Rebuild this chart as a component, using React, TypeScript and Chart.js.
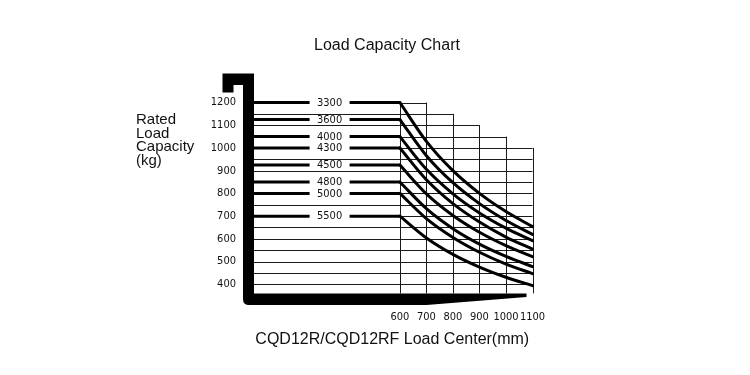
import React, { useEffect, useRef } from 'react';
import { Chart, registerables } from 'chart.js';

Chart.register(...registerables);

// ---------- text ----------
const chartTitle = 'Load Capacity Chart';
const xAxisTitle = 'CQD12R/CQD12RF Load Center(mm)';
const yAxisTitleLines = ['Rated', 'Load', 'Capacity', '(kg)'];

// ---------- axes / ticks ----------
const loadCenters = [600, 700, 800, 900, 1000, 1100];
const xTickLabels = [600, 700, 800, 900, 1000, 1100];
const yTickLabels = [400, 500, 600, 700, 800, 900, 1000, 1100, 1200];
const gridLevels = [400, 450, 500, 550, 600, 650, 700, 750, 800, 850, 900, 950, 1000, 1050, 1100, 1150, 1200];
// top of the grid for each load-center column (600-700, 700-800, ... 1000-1100)
const columnTops = [1200, 1150, 1100, 1050, 1000];

// ---------- series (lift height mm -> capacity kg at each load center) ----------
const models = ['3300', '3600', '4000', '4300', '4500', '4800', '5000', '5500'];
const cap3300 = [1200, 1029, 900, 800, 720, 654];
const cap3600 = [1125, 966, 847, 755, 681, 620];
const cap4000 = [1050, 906, 798, 714, 647, 592];
const cap4300 = [1000, 860, 755, 674, 608, 555];
const cap4500 = [925, 798, 703, 629, 570, 522];
const cap4800 = [850, 733, 645, 577, 523, 478];
const cap5000 = [800, 689, 606, 541, 489, 447];
const cap5500 = [700, 604, 532, 476, 431, 394];
const seriesValues = [cap3300, cap3600, cap4000, cap4300, cap4500, cap4800, cap5000, cap5500];

const X_MIN = 50;
const X_MAX = 1100;
const Y_MIN = 360;
const Y_MAX = 1200;
const LABEL_AT = 335; // load-center position of the model labels

const narrowFont = "'Liberation Sans Narrow', 'DejaVu Sans Condensed', 'Arial Narrow', sans-serif";
const sansFont = "'Liberation Sans', Arial, Helvetica, sans-serif";

const gridPlugin = {
  id: 'loadGrid',
  beforeDatasetsDraw(chart: any) {
    const { ctx, chartArea } = chart;
    const xs = chart.scales.x;
    const ys = chart.scales.y;
    ctx.save();
    ctx.strokeStyle = '#1a1a1a';
    ctx.lineWidth = 1;
    ctx.beginPath();
    for (const lvl of gridLevels) {
      let endIdx = 0;
      for (let i = 0; i < columnTops.length; i++) if (columnTops[i] >= lvl) endIdx = i + 1;
      const y = Math.round(ys.getPixelForValue(lvl)) + 0.5;
      ctx.moveTo(chartArea.left, y);
      ctx.lineTo(xs.getPixelForValue(loadCenters[endIdx]), y);
    }
    for (let i = 0; i < loadCenters.length; i++) {
      const a = i > 0 ? columnTops[i - 1] : Y_MAX;
      const b = i < columnTops.length ? columnTops[i] : -Infinity;
      const top = Math.max(a, b);
      const x = Math.round(xs.getPixelForValue(loadCenters[i])) + 0.5;
      ctx.moveTo(x, chartArea.bottom);
      ctx.lineTo(x, ys.getPixelForValue(top));
    }
    ctx.stroke();
    ctx.restore();
  },
  afterDatasetsDraw(chart: any) {
    const { ctx } = chart;
    const xs = chart.scales.x;
    const ys = chart.scales.y;
    const cx = xs.getPixelForValue(LABEL_AT);
    ctx.save();
    ctx.font = `11px ${narrowFont}`;
    ctx.textAlign = 'center';
    ctx.textBaseline = 'middle';
    models.forEach((m, i) => {
      const y = ys.getPixelForValue(seriesValues[i][0]);
      ctx.fillStyle = '#ffffff';
      ctx.fillRect(cx - 20, y - 4, 40, 8);
      ctx.fillStyle = '#111';
      ctx.fillText(m, cx, y + 0.5);
    });
    ctx.restore();
  },
  afterDraw(chart: any) {
    const { ctx, chartArea } = chart;
    const xs = chart.scales.x;
    const ys = chart.scales.y;
    const L = chartArea.left;
    const B = chartArea.bottom;
    const T = ys.getPixelForValue(Y_MAX);
    const tip = xs.getPixelForValue(X_MAX) - 6;
    const taper = xs.getPixelForValue(loadCenters[1]);
    ctx.save();
    ctx.fillStyle = '#000';
    // fork: hook + shank + blade
    ctx.beginPath();
    ctx.moveTo(L - 31.5, T - 29);
    ctx.lineTo(L, T - 29);
    ctx.lineTo(L, B);
    ctx.lineTo(tip, B);
    ctx.lineTo(tip, B + 3.5);
    ctx.lineTo(taper, B + 11.6);
    ctx.lineTo(L - 5, B + 11.6);
    ctx.quadraticCurveTo(L - 11, B + 11.6, L - 11, B + 5.6);
    ctx.lineTo(L - 11, T - 17.5);
    ctx.lineTo(L - 20.5, T - 17.5);
    ctx.lineTo(L - 20.5, T - 10);
    ctx.lineTo(L - 31.5, T - 10);
    ctx.closePath();
    ctx.fill();

    // titles
    ctx.fillStyle = '#111';
    ctx.textBaseline = 'middle';
    ctx.textAlign = 'center';
    ctx.font = `16px ${sansFont}`;
    ctx.fillText(chartTitle, 387, 46);
    ctx.fillText(xAxisTitle, (chartArea.left + chartArea.right) / 2 - 1, 340);
    ctx.textAlign = 'left';
    ctx.font = `15px ${sansFont}`;
    yAxisTitleLines.forEach((t, i) => ctx.fillText(t, 136, 120 + i * 13.5));
    ctx.restore();
  },
};

export default function App() {
  const canvasRef = useRef<HTMLCanvasElement | null>(null);

  useEffect(() => {
    document.body.style.margin = '0';
    const canvas = canvasRef.current;
    if (!canvas) return;

    const datasets: any[] = [];
    seriesValues.forEach((vals, i) => {
      const common = {
        label: models[i],
        showLine: true,
        borderColor: '#000',
        backgroundColor: '#000',
        borderWidth: 3,
        pointRadius: 0,
        borderCapStyle: 'round',
        fill: false,
        clip: false,
      };
      datasets.push({
        ...common,
        data: [
          { x: X_MIN, y: vals[0] },
          { x: loadCenters[0], y: vals[0] },
        ],
      });
      datasets.push({
        ...common,
        cubicInterpolationMode: 'monotone',
        data: loadCenters.map((c, j) => ({ x: c, y: vals[j] })),
      });
    });

    const chart = new Chart(canvas, {
      type: 'scatter',
      data: { datasets },
      options: {
        animation: false,
        responsive: true,
        maintainAspectRatio: false,
        layout: { padding: { left: 0, top: 102.5, right: 217.5, bottom: 41.6 } },
        plugins: {
          legend: { display: false },
          tooltip: { enabled: false },
          title: { display: false },
        },
        scales: {
          x: {
            type: 'linear',
            min: X_MIN,
            max: X_MAX,
            grid: { display: false, drawTicks: false },
            border: { display: false },
            afterBuildTicks: (scale: any) => {
              scale.ticks = xTickLabels.map((v) => ({ value: v }));
            },
            afterFit: (scale: any) => {
              scale.height = 40;
            },
            ticks: {
              autoSkip: false,
              maxRotation: 0,
              padding: 17,
              color: '#111',
              font: { family: narrowFont, size: 11 },
              callback: (v: any) => String(v),
            },
          },
          y: {
            type: 'linear',
            min: Y_MIN,
            max: Y_MAX,
            grid: { display: false, drawTicks: false },
            border: { display: false },
            afterBuildTicks: (scale: any) => {
              scale.ticks = yTickLabels.map((v) => ({ value: v }));
            },
            afterFit: (scale: any) => {
              scale.width = 254;
            },
            ticks: {
              autoSkip: false,
              padding: 18,
              color: '#111',
              font: { family: narrowFont, size: 11 },
              callback: (v: any) => String(v),
            },
          },
        },
      },
      plugins: [gridPlugin],
    });

    return () => chart.destroy();
  }, []);

  return (
    <div style={{ position: 'relative', width: 750, height: 375 }}>
      <canvas ref={canvasRef} />
    </div>
  );
}
